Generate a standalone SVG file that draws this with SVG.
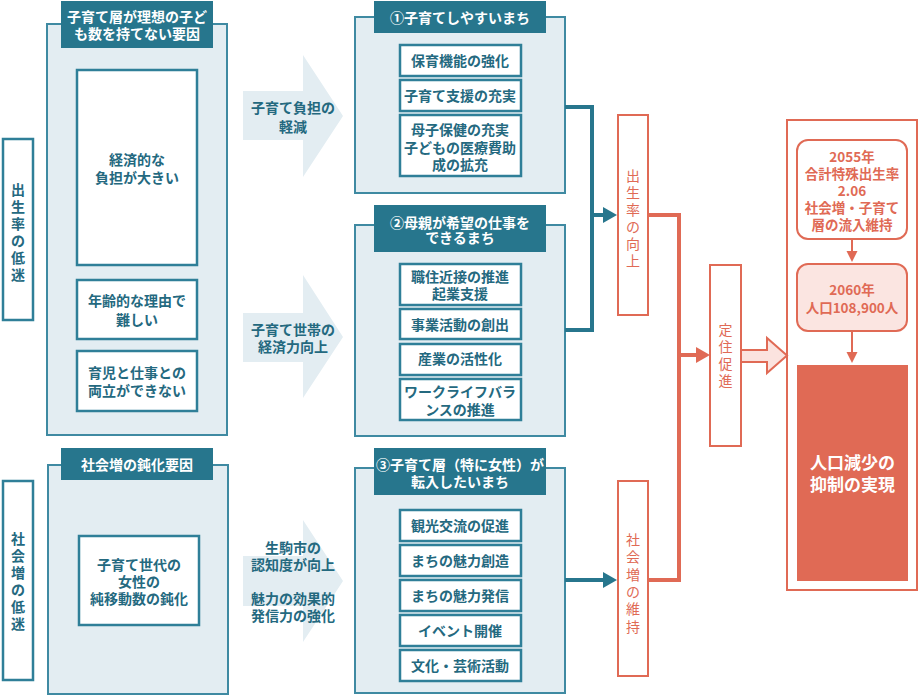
<svg xmlns="http://www.w3.org/2000/svg" width="919" height="697" viewBox="0 0 919 697">
<defs>
<style>
text{font-family:"Noto Sans CJK JP","Noto Sans",sans-serif;font-weight:bold;text-anchor:middle}
.cont{fill:#e3edf2;stroke:#3f8aa2;stroke-width:2}
.hdr{fill:#27768d}
.hdrt{fill:#ffffff;font-size:14px}
.item{fill:#ffffff;stroke:#2f7f98;stroke-width:2.5}
.t{fill:#24697f;font-size:14px}
.lbl{fill:#ffffff;stroke:#2f7f98;stroke-width:2.5}
.big{fill:#e3edf2}
.rbox{fill:#ffffff;stroke:#e06a55;stroke-width:2}
.rt{fill:#e06a55;font-size:14px;font-weight:normal}
.rt2{fill:#e06a55;font-size:13.5px}
.teal{fill:none;stroke:#27768d;stroke-width:4}
.red{fill:none;stroke:#e06a55;stroke-width:4}
.thin{fill:none;stroke:#e06a55;stroke-width:2}
</style>
<marker id="ahT" markerUnits="userSpaceOnUse" markerWidth="14" markerHeight="16" refX="4" refY="8" orient="auto"><path d="M0,0 L14,8 L0,16 z" fill="#27768d"/></marker>
<marker id="ahR" markerUnits="userSpaceOnUse" markerWidth="14" markerHeight="16" refX="4" refY="8" orient="auto"><path d="M0,0 L14,8 L0,16 z" fill="#e06a55"/></marker>
<marker id="ahS" markerUnits="userSpaceOnUse" markerWidth="12" markerHeight="12" refX="2" refY="5.5" orient="auto"><path d="M0,0 L11,5.5 L0,11 z" fill="#e06a55"/></marker>
</defs>
<rect width="919" height="697" fill="#ffffff"/>

<g id="label-birth">
<rect class="lbl" x="3" y="139" width="30" height="181"/>
<text class="t"><tspan x="18" y="195">出</tspan><tspan x="18" y="212">生</tspan><tspan x="18" y="229">率</tspan><tspan x="18" y="246">の</tspan><tspan x="18" y="263">低</tspan><tspan x="18" y="280">迷</tspan></text>
</g>
<g id="label-social">
<rect class="lbl" x="3" y="481" width="30" height="199"/>
<text class="t"><tspan x="18" y="544">社</tspan><tspan x="18" y="561">会</tspan><tspan x="18" y="578">増</tspan><tspan x="18" y="595">の</tspan><tspan x="18" y="612">低</tspan><tspan x="18" y="629">迷</tspan></text>
</g>

<g id="factors-birth">
<rect class="cont" x="47" y="24" width="180" height="411"/>
<rect class="hdr" x="61" y="1" width="152" height="47"/>
<text class="hdrt"><tspan x="137" y="22">子育て層が理想の子ど</tspan><tspan x="137" y="39">も数を持てない要因</tspan></text>
</g>
<g id="f-econ">
<rect class="item" x="77" y="70" width="120" height="195"/>
<text class="t"><tspan x="137" y="165">経済的な</tspan><tspan x="137" y="183">負担が大きい</tspan></text>
</g>
<g id="f-age">
<rect class="item" x="77" y="280" width="120" height="59"/>
<text class="t"><tspan x="137" y="306">年齢的な理由で</tspan><tspan x="137" y="325">難しい</tspan></text>
</g>
<g id="f-work">
<rect class="item" x="77" y="351" width="120" height="60"/>
<text class="t"><tspan x="137" y="378">育児と仕事との</tspan><tspan x="137" y="396">両立ができない</tspan></text>
</g>

<g id="factors-social">
<rect class="cont" x="48" y="465" width="180" height="229"/>
<rect class="hdr" x="61" y="448" width="152" height="32"/>
<text class="hdrt" x="137" y="470">社会増の鈍化要因</text>
</g>
<g id="f-women">
<rect class="item" x="79" y="536" width="120" height="89"/>
<text class="t"><tspan x="139" y="570">子育て世代の</tspan><tspan x="139" y="587">女性の</tspan><tspan x="139" y="604">純移動数の鈍化</tspan></text>
</g>

<g id="arrow1">
<path class="big" d="M243,91 H303 V55 L343,116 L303,177 V140 H243 Z"/>
<text class="t"><tspan x="293" y="113">子育て負担の</tspan><tspan x="293" y="132">軽減</tspan></text>
</g>
<g id="arrow2">
<path class="big" d="M243,313 H303 V275 L343,337 L303,398 V362 H243 Z"/>
<text class="t"><tspan x="293" y="335">子育て世帯の</tspan><tspan x="293" y="352">経済力向上</tspan></text>
</g>
<g id="arrow3">
<path class="big" d="M243,556 H303 V520 L343,581 L303,642 V606 H243 Z"/>
<text class="t"><tspan x="293" y="553">生駒市の</tspan><tspan x="293" y="570">認知度が向上</tspan><tspan x="293" y="604">魅力の効果的</tspan><tspan x="293" y="621">発信力の強化</tspan></text>
</g>

<g id="policy1">
<rect class="cont" x="355" y="17" width="210" height="176"/>
<rect class="hdr" x="374" y="1" width="172" height="32"/>
<text class="hdrt" x="460" y="23">①子育てしやすいまち</text>
</g>
<g id="p1-a"><rect class="item" x="400" y="45" width="121" height="31"/><text class="t" x="460" y="66">保育機能の強化</text></g>
<g id="p1-b"><rect class="item" x="400" y="80" width="121" height="31"/><text class="t" x="460" y="101">子育て支援の充実</text></g>
<g id="p1-c"><rect class="item" x="400" y="115" width="121" height="61"/><text class="t"><tspan x="460" y="135">母子保健の充実</tspan><tspan x="460" y="153">子どもの医療費助</tspan><tspan x="460" y="170">成の拡充</tspan></text></g>

<g id="policy2">
<rect class="cont" x="355" y="225" width="210" height="211"/>
<rect class="hdr" x="374" y="205" width="172" height="47"/>
<text class="hdrt"><tspan x="460" y="228">②母親が希望の仕事を</tspan><tspan x="460" y="243">できるまち</tspan></text>
</g>
<g id="p2-a"><rect class="item" x="400" y="264" width="121" height="41"/><text class="t"><tspan x="460" y="282">職住近接の推進</tspan><tspan x="460" y="299">起業支援</tspan></text></g>
<g id="p2-b"><rect class="item" x="400" y="309" width="121" height="30"/><text class="t" x="460" y="330">事業活動の創出</text></g>
<g id="p2-c"><rect class="item" x="400" y="344" width="121" height="31"/><text class="t" x="460" y="364">産業の活性化</text></g>
<g id="p2-d"><rect class="item" x="400" y="379" width="121" height="41"/><text class="t"><tspan x="460" y="397">ワークライフバラ</tspan><tspan x="460" y="415">ンスの推進</tspan></text></g>

<g id="policy3">
<rect class="cont" x="355" y="468" width="210" height="225"/>
<rect class="hdr" x="374" y="448" width="172" height="47"/>
<text class="hdrt"><tspan x="460" y="470">③子育て層（特に女性）が</tspan><tspan x="460" y="487">転入したいまち</tspan></text>
</g>
<g id="p3-a"><rect class="item" x="400" y="510" width="121" height="31"/><text class="t" x="460" y="531">観光交流の促進</text></g>
<g id="p3-b"><rect class="item" x="400" y="545" width="121" height="31"/><text class="t" x="460" y="566">まちの魅力創造</text></g>
<g id="p3-c"><rect class="item" x="400" y="580" width="121" height="31"/><text class="t" x="460" y="601">まちの魅力発信</text></g>
<g id="p3-d"><rect class="item" x="400" y="615" width="121" height="31"/><text class="t" x="460" y="636">イベント開催</text></g>
<g id="p3-e"><rect class="item" x="400" y="650" width="121" height="31"/><text class="t" x="460" y="671">文化・芸術活動</text></g>

<g id="birth-up">
<rect class="rbox" x="618" y="115" width="30" height="200"/>
<text class="rt"><tspan x="633" y="181">出</tspan><tspan x="633" y="198">生</tspan><tspan x="633" y="215">率</tspan><tspan x="633" y="232">の</tspan><tspan x="633" y="249">向</tspan><tspan x="633" y="266">上</tspan></text>
</g>
<g id="social-keep">
<rect class="rbox" x="618" y="481" width="30" height="195"/>
<text class="rt"><tspan x="633" y="545">社</tspan><tspan x="633" y="562">会</tspan><tspan x="633" y="580">増</tspan><tspan x="633" y="597">の</tspan><tspan x="633" y="614">維</tspan><tspan x="633" y="632">持</tspan></text>
</g>
<g id="settle">
<rect class="rbox" x="710" y="265" width="31" height="181"/>
<text class="rt"><tspan x="725.5" y="335">定</tspan><tspan x="725.5" y="352">住</tspan><tspan x="725.5" y="369">促</tspan><tspan x="725.5" y="386">進</tspan></text>
</g>

<g id="goal">
<rect class="rbox" x="787" y="120" width="130" height="470"/>
</g>
<g id="g2055">
<rect x="797" y="140" width="110" height="99" rx="11" fill="#ffffff" stroke="#e06a55" stroke-width="2"/>
<text class="rt2"><tspan x="852" y="162">2055年</tspan><tspan x="852" y="179">合計特殊出生率</tspan><tspan x="852" y="196">2.06</tspan><tspan x="852" y="213">社会増・子育て</tspan><tspan x="852" y="230">層の流入維持</tspan></text>
</g>
<g id="g2060">
<rect x="797" y="264" width="110" height="67" rx="11" fill="#fbe5e1" stroke="#e06a55" stroke-width="2"/>
<text class="rt2"><tspan x="852" y="295">2060年</tspan><tspan x="852" y="313">人口108,900人</tspan></text>
</g>
<g id="gresult">
<rect x="797" y="365" width="111" height="216" fill="#e06a55"/>
<text fill="#ffffff" font-size="17"><tspan x="852.5" y="469">人口減少の</tspan><tspan x="852.5" y="491">抑制の実現</tspan></text>
</g>

<g id="connectors">
<path class="teal" d="M565,107 H592 V330 H565"/>
<path class="teal" d="M592,215 H607" marker-end="url(#ahT)"/>
<path class="teal" d="M565,580 H607" marker-end="url(#ahT)"/>
<path class="red" d="M648,215 H679 V580 H648"/>
<path class="red" d="M679,355 H700" marker-end="url(#ahR)"/>
<path class="thin" d="M852,240 V253" marker-end="url(#ahS)"/>
<path class="thin" d="M852,332 V354" marker-end="url(#ahS)"/>
<path d="M741,350 H767 V338 L787,355.5 L767,373 V362 H741 Z" fill="#fbe3df" stroke="#e06a55" stroke-width="2"/>
</g>
</svg>
